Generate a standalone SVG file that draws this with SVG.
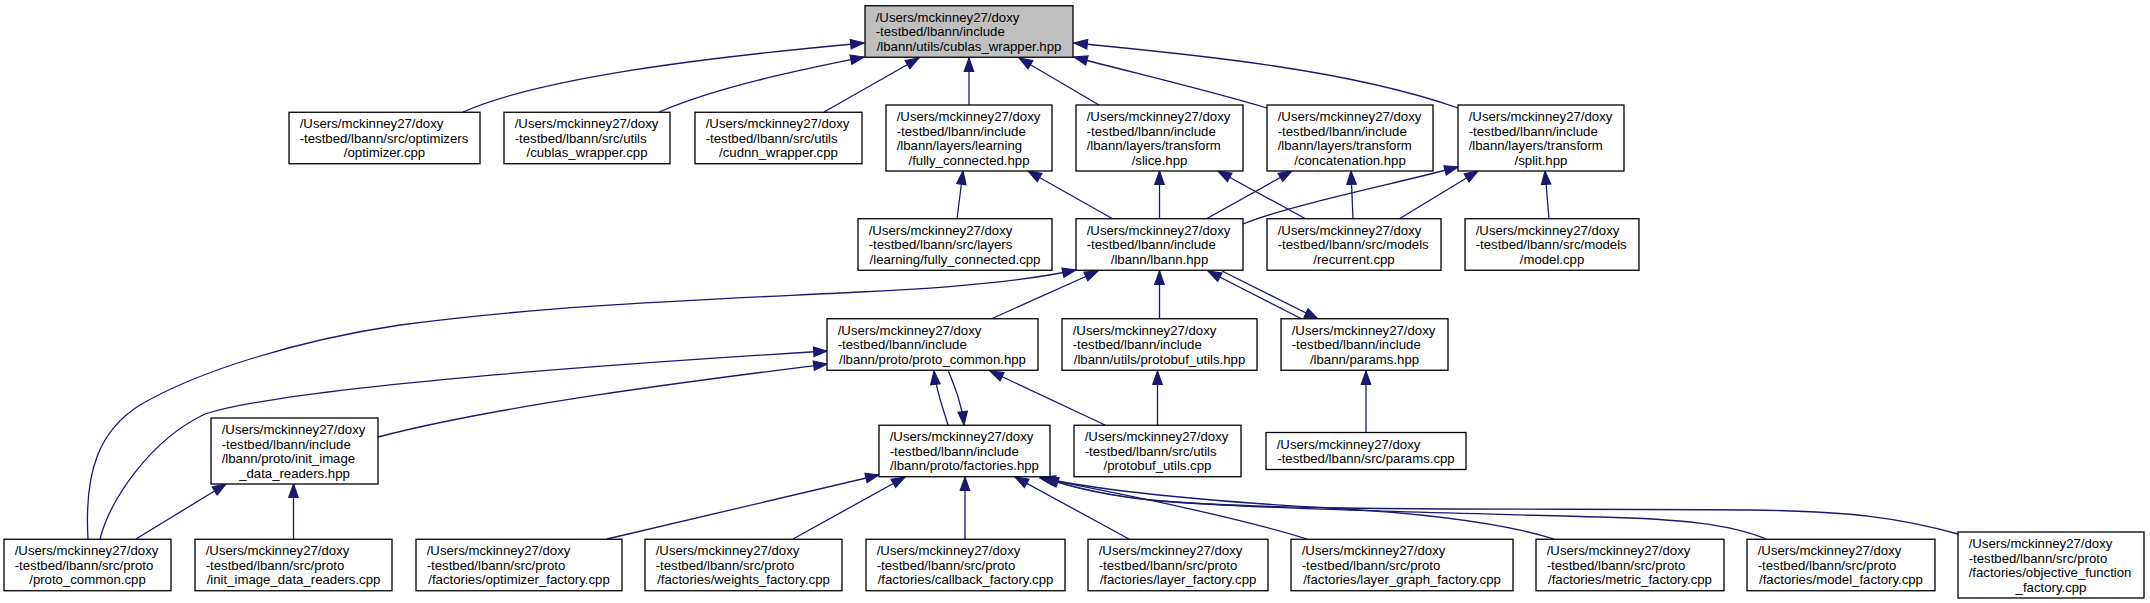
<svg xmlns="http://www.w3.org/2000/svg" width="2150" height="603" viewBox="0 0 2150 603">
<defs>
<style>
.node rect{fill:#ffffff;stroke:#000000;stroke-width:1.3}
.node.root rect{fill:#bfbfbf}
.node text{font-family:"Liberation Sans",Arial,Helvetica,sans-serif;font-size:13.2px;fill:#000000}
.c{text-anchor:middle}
#edges path{fill:none;stroke:#191970;stroke-width:1.3;marker-end:url(#ah)}
</style>
<marker id="ah" markerUnits="userSpaceOnUse" markerWidth="15" markerHeight="11" refX="13.3" refY="4.7" orient="auto" overflow="visible">
<path d="M0,0 L13.3,4.7 L0,9.4 z" fill="#191970" stroke="#191970" stroke-width="1.2"/>
</marker>
</defs>
<rect width="2150" height="603" fill="#ffffff"/>
<g id="edges">
<path d="M463,112 C540,78 700,58 864,43"/>
<path d="M659,112 C720,86 800,70 864,57"/>
<path d="M824,112 L919,58"/>
<path d="M969,105 L969,58"/>
<path d="M1099,105 L1019,58"/>
<path d="M1267,108 C1200,88 1130,72 1074,57"/>
<path d="M1458,108 C1350,70 1200,55 1074,43"/>
<path d="M957,219 L963,171"/>
<path d="M1113,219 L1028,171"/>
<path d="M1159.5,219 L1159.5,171"/>
<path d="M1306,219 L1218,171"/>
<path d="M1206,219 L1292,171"/>
<path d="M1353,219 L1351,171"/>
<path d="M1243,224 C1290,205 1390,185 1458,167"/>
<path d="M1399,219 L1478,171"/>
<path d="M1549,219 L1545,171"/>
<path d="M88,539 C84,470 100,430 140,405 C200,370 300,340 400,325 C550,305 700,300 860,292 C950,288 1020,282 1076,270"/>
<path d="M991,319 L1098,271"/>
<path d="M1159.5,319 L1159.5,271"/>
<path d="M1302,319 L1208,271"/>
<path d="M1222,271 L1318,319"/>
<path d="M100,539 C110,500 150,440 205,414 C280,390 550,368 827,351"/>
<path d="M378,437 C500,405 700,380 827,364"/>
<path d="M948,425 C942,405 936,390 934,371"/>
<path d="M948,370 C956,390 962,405 964,425"/>
<path d="M1105,425 L990,371"/>
<path d="M1157.5,425 L1157.5,371"/>
<path d="M1366,432 L1366,371"/>
<path d="M136,539 L226,484"/>
<path d="M293.5,539 L293.5,484"/>
<path d="M607,539 L879,475"/>
<path d="M793,539 L905,477"/>
<path d="M965,539 L965,477"/>
<path d="M1129,539 L1015,477"/>
<path d="M1307,539 C1230,515 1110,492 1040,478"/>
<path d="M1554,539 C1500,522 1420,513 1330,508 C1220,502 1110,492 1042,478"/>
<path d="M1766,539 C1730,524 1680,519 1600,517 C1450,513 1250,509 1150,500 C1100,495 1070,487 1044,478"/>
<path d="M1958,534 C1900,518 1850,511 1750,510 C1550,508 1300,512 1160,501 C1110,496 1075,488 1045,478"/>
</g>
<g id="n0" class="node root"><rect x="865" y="5.75" width="208" height="51.5"/><text><tspan x="875.7" y="21.8">/Users/mckinney27/doxy</tspan><tspan x="875.7" y="36.3">-testbed/lbann/include</tspan><tspan class="c" x="969" y="50.8">/lbann/utils/cublas_wrapper.hpp</tspan></text></g>
<g id="n1" class="node"><rect x="289" y="112.25" width="191" height="51.5"/><text><tspan x="299.7" y="128.3">/Users/mckinney27/doxy</tspan><tspan x="299.7" y="142.8">-testbed/lbann/src/optimizers</tspan><tspan class="c" x="384.5" y="157.3">/optimizer.cpp</tspan></text></g>
<g id="n2" class="node"><rect x="504" y="112.25" width="166" height="51.5"/><text><tspan x="514.7" y="128.3">/Users/mckinney27/doxy</tspan><tspan x="514.7" y="142.8">-testbed/lbann/src/utils</tspan><tspan class="c" x="587" y="157.3">/cublas_wrapper.cpp</tspan></text></g>
<g id="n3" class="node"><rect x="695" y="112.25" width="167" height="51.5"/><text><tspan x="705.7" y="128.3">/Users/mckinney27/doxy</tspan><tspan x="705.7" y="142.8">-testbed/lbann/src/utils</tspan><tspan class="c" x="778.5" y="157.3">/cudnn_wrapper.cpp</tspan></text></g>
<g id="n4" class="node"><rect x="886" y="105" width="166" height="66"/><text><tspan x="896.7" y="121.05">/Users/mckinney27/doxy</tspan><tspan x="896.7" y="135.55">-testbed/lbann/include</tspan><tspan x="896.7" y="150.05">/lbann/layers/learning</tspan><tspan class="c" x="969" y="164.55">/fully_connected.hpp</tspan></text></g>
<g id="n5" class="node"><rect x="1076" y="105" width="167" height="66"/><text><tspan x="1086.7" y="121.05">/Users/mckinney27/doxy</tspan><tspan x="1086.7" y="135.55">-testbed/lbann/include</tspan><tspan x="1086.7" y="150.05">/lbann/layers/transform</tspan><tspan class="c" x="1159.5" y="164.55">/slice.hpp</tspan></text></g>
<g id="n6" class="node"><rect x="1267" y="105" width="166" height="66"/><text><tspan x="1277.7" y="121.05">/Users/mckinney27/doxy</tspan><tspan x="1277.7" y="135.55">-testbed/lbann/include</tspan><tspan x="1277.7" y="150.05">/lbann/layers/transform</tspan><tspan class="c" x="1350" y="164.55">/concatenation.hpp</tspan></text></g>
<g id="n7" class="node"><rect x="1458" y="105" width="166" height="66"/><text><tspan x="1468.7" y="121.05">/Users/mckinney27/doxy</tspan><tspan x="1468.7" y="135.55">-testbed/lbann/include</tspan><tspan x="1468.7" y="150.05">/lbann/layers/transform</tspan><tspan class="c" x="1541" y="164.55">/split.hpp</tspan></text></g>
<g id="n8" class="node"><rect x="858" y="218.75" width="194" height="51.5"/><text><tspan x="868.7" y="234.8">/Users/mckinney27/doxy</tspan><tspan x="868.7" y="249.3">-testbed/lbann/src/layers</tspan><tspan class="c" x="955" y="263.8">/learning/fully_connected.cpp</tspan></text></g>
<g id="n9" class="node"><rect x="1076" y="218.75" width="167" height="51.5"/><text><tspan x="1086.7" y="234.8">/Users/mckinney27/doxy</tspan><tspan x="1086.7" y="249.3">-testbed/lbann/include</tspan><tspan class="c" x="1159.5" y="263.8">/lbann/lbann.hpp</tspan></text></g>
<g id="n10" class="node"><rect x="1267" y="218.75" width="174" height="51.5"/><text><tspan x="1277.7" y="234.8">/Users/mckinney27/doxy</tspan><tspan x="1277.7" y="249.3">-testbed/lbann/src/models</tspan><tspan class="c" x="1354" y="263.8">/recurrent.cpp</tspan></text></g>
<g id="n11" class="node"><rect x="1465" y="218.75" width="174" height="51.5"/><text><tspan x="1475.7" y="234.8">/Users/mckinney27/doxy</tspan><tspan x="1475.7" y="249.3">-testbed/lbann/src/models</tspan><tspan class="c" x="1552" y="263.8">/model.cpp</tspan></text></g>
<g id="n12" class="node"><rect x="827" y="318.75" width="211" height="51.5"/><text><tspan x="837.7" y="334.8">/Users/mckinney27/doxy</tspan><tspan x="837.7" y="349.3">-testbed/lbann/include</tspan><tspan class="c" x="932.5" y="363.8">/lbann/proto/proto_common.hpp</tspan></text></g>
<g id="n13" class="node"><rect x="1062" y="318.75" width="195" height="51.5"/><text><tspan x="1072.7" y="334.8">/Users/mckinney27/doxy</tspan><tspan x="1072.7" y="349.3">-testbed/lbann/include</tspan><tspan class="c" x="1159.5" y="363.8">/lbann/utils/protobuf_utils.hpp</tspan></text></g>
<g id="n14" class="node"><rect x="1281" y="318.75" width="167" height="51.5"/><text><tspan x="1291.7" y="334.8">/Users/mckinney27/doxy</tspan><tspan x="1291.7" y="349.3">-testbed/lbann/include</tspan><tspan class="c" x="1364.5" y="363.8">/lbann/params.hpp</tspan></text></g>
<g id="n15" class="node"><rect x="211" y="418" width="167" height="66"/><text><tspan x="221.7" y="434.05">/Users/mckinney27/doxy</tspan><tspan x="221.7" y="448.55">-testbed/lbann/include</tspan><tspan x="221.7" y="463.05">/lbann/proto/init_image</tspan><tspan class="c" x="294.5" y="477.55">_data_readers.hpp</tspan></text></g>
<g id="n16" class="node"><rect x="879" y="425.25" width="171" height="51.5"/><text><tspan x="889.7" y="441.3">/Users/mckinney27/doxy</tspan><tspan x="889.7" y="455.8">-testbed/lbann/include</tspan><tspan class="c" x="964.5" y="470.3">/lbann/proto/factories.hpp</tspan></text></g>
<g id="n17" class="node"><rect x="1074" y="425.25" width="167" height="51.5"/><text><tspan x="1084.7" y="441.3">/Users/mckinney27/doxy</tspan><tspan x="1084.7" y="455.8">-testbed/lbann/src/utils</tspan><tspan class="c" x="1157.5" y="470.3">/protobuf_utils.cpp</tspan></text></g>
<g id="n18" class="node"><rect x="1266" y="432.5" width="200" height="37"/><text><tspan x="1276.7" y="448.55">/Users/mckinney27/doxy</tspan><tspan class="c" x="1366" y="463.05">-testbed/lbann/src/params.cpp</tspan></text></g>
<g id="n19" class="node"><rect x="4" y="539.25" width="167" height="51.5"/><text><tspan x="14.7" y="555.3">/Users/mckinney27/doxy</tspan><tspan x="14.7" y="569.8">-testbed/lbann/src/proto</tspan><tspan class="c" x="87.5" y="584.3">/proto_common.cpp</tspan></text></g>
<g id="n20" class="node"><rect x="195" y="539.25" width="197" height="51.5"/><text><tspan x="205.7" y="555.3">/Users/mckinney27/doxy</tspan><tspan x="205.7" y="569.8">-testbed/lbann/src/proto</tspan><tspan class="c" x="293.5" y="584.3">/init_image_data_readers.cpp</tspan></text></g>
<g id="n21" class="node"><rect x="416" y="539.25" width="206" height="51.5"/><text><tspan x="426.7" y="555.3">/Users/mckinney27/doxy</tspan><tspan x="426.7" y="569.8">-testbed/lbann/src/proto</tspan><tspan class="c" x="519" y="584.3">/factories/optimizer_factory.cpp</tspan></text></g>
<g id="n22" class="node"><rect x="645" y="539.25" width="197" height="51.5"/><text><tspan x="655.7" y="555.3">/Users/mckinney27/doxy</tspan><tspan x="655.7" y="569.8">-testbed/lbann/src/proto</tspan><tspan class="c" x="743.5" y="584.3">/factories/weights_factory.cpp</tspan></text></g>
<g id="n23" class="node"><rect x="866" y="539.25" width="199" height="51.5"/><text><tspan x="876.7" y="555.3">/Users/mckinney27/doxy</tspan><tspan x="876.7" y="569.8">-testbed/lbann/src/proto</tspan><tspan class="c" x="965.5" y="584.3">/factories/callback_factory.cpp</tspan></text></g>
<g id="n24" class="node"><rect x="1088" y="539.25" width="180" height="51.5"/><text><tspan x="1098.7" y="555.3">/Users/mckinney27/doxy</tspan><tspan x="1098.7" y="569.8">-testbed/lbann/src/proto</tspan><tspan class="c" x="1178" y="584.3">/factories/layer_factory.cpp</tspan></text></g>
<g id="n25" class="node"><rect x="1291" y="539.25" width="222" height="51.5"/><text><tspan x="1301.7" y="555.3">/Users/mckinney27/doxy</tspan><tspan x="1301.7" y="569.8">-testbed/lbann/src/proto</tspan><tspan class="c" x="1402" y="584.3">/factories/layer_graph_factory.cpp</tspan></text></g>
<g id="n26" class="node"><rect x="1536" y="539.25" width="188" height="51.5"/><text><tspan x="1546.7" y="555.3">/Users/mckinney27/doxy</tspan><tspan x="1546.7" y="569.8">-testbed/lbann/src/proto</tspan><tspan class="c" x="1630" y="584.3">/factories/metric_factory.cpp</tspan></text></g>
<g id="n27" class="node"><rect x="1747" y="539.25" width="188" height="51.5"/><text><tspan x="1757.7" y="555.3">/Users/mckinney27/doxy</tspan><tspan x="1757.7" y="569.8">-testbed/lbann/src/proto</tspan><tspan class="c" x="1841" y="584.3">/factories/model_factory.cpp</tspan></text></g>
<g id="n28" class="node"><rect x="1958" y="532" width="186" height="66"/><text><tspan x="1968.7" y="548.05">/Users/mckinney27/doxy</tspan><tspan x="1968.7" y="562.55">-testbed/lbann/src/proto</tspan><tspan x="1968.7" y="577.05">/factories/objective_function</tspan><tspan class="c" x="2051" y="591.55">_factory.cpp</tspan></text></g>
</svg>
